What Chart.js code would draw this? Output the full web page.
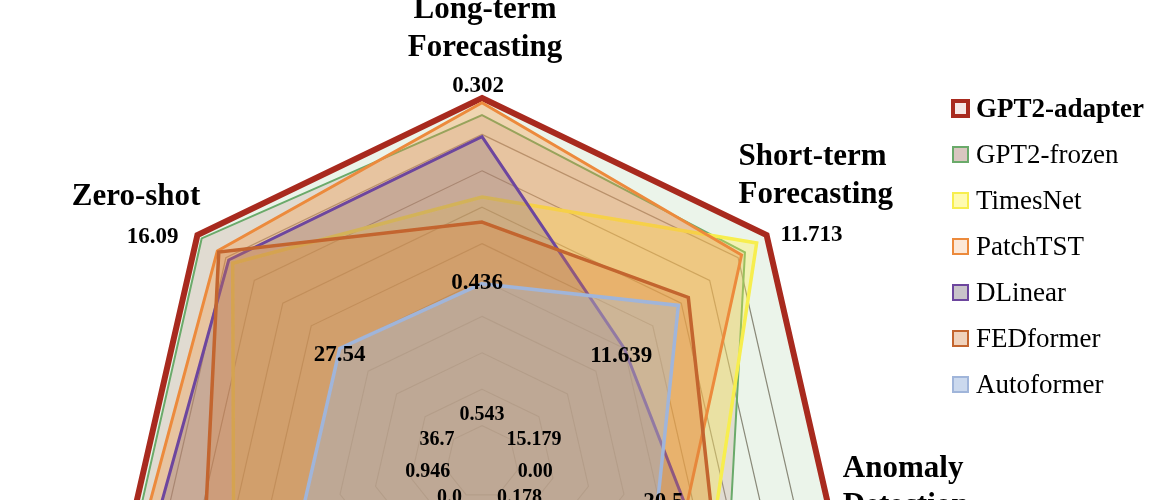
<!DOCTYPE html>
<html><head><meta charset="utf-8">
<script src="https://cdn.jsdelivr.net/npm/chart.js@4.4.1/dist/chart.umd.min.js"></script>
<style>
html,body{margin:0;padding:0;background:#fff;overflow:hidden;width:1176px;height:500px;}
#wrap{position:absolute;left:0;top:0;width:1176px;height:880px;}
#legend{position:absolute;left:952px;top:85px;font-family:"Liberation Serif","Times New Roman",serif;font-size:27px;color:#000;}
.item{display:flex;align-items:center;height:46px;white-space:nowrap;}
.box{box-sizing:border-box;width:17px;height:17px;margin-right:7px;}
</style></head><body>
<div id="wrap"><canvas id="c" width="1176" height="880"></canvas></div>
<div id="legend"></div>
<script>
// ---- data ----
const axisTitles = [["Long-term","Forecasting"],["Short-term","Forecasting"],["Anomaly","Detection"],["Classification"],["Imputation"],["Few-shot"],["Zero-shot"]];
const bestValues = ["0.302","11.713","","","","","16.09"];
const midValues = ["0.436","11.639","20.5","","","","27.54"];
const baseValues = ["0.543","15.179","0.00","0.178","0.0","0.946","36.7"];
const seriesNames = ["GPT2-adapter","GPT2-frozen","TimesNet","PatchTST","DLinear","FEDformer","Autoformer"];
const gpt2Adapter = [1.0, 1.0, 1.0, 1.0, 1.0, 1.0, 1.0];
const gpt2Frozen  = [0.953, 0.924, 0.70, 0.90, 0.95, 0.983, 0.985];
const timesNet    = [0.728, 0.965, 0.657, 0.85, 0.97, 0.70, 0.876];
const patchTST    = [0.987, 0.912, 0.575, 0.80, 0.90, 0.964, 0.93];
const dLinear     = [0.894, 0.50, 0.577, 0.70, 0.80, 0.93, 0.89];
const fedFormer   = [0.659, 0.725, 0.648, 0.70, 0.80, 0.78, 0.925];
const autoformer  = [0.49, 0.69, 0.495, 0.60, 0.60, 0.50, 0.50];
const seriesValues = [gpt2Adapter, gpt2Frozen, timesNet, patchTST, dLinear, fedFormer, autoformer];

// ---- styles ----
const lineColors = ["#A82A1E","#6AAA6A","#F7EE4E","#EC8A3C","#6D469E","#C3652F","#A0B5DA"];
const fillColors = ["rgba(190,220,185,0.3)","rgba(200,160,150,0.3)","rgba(255,238,70,0.33)","rgba(245,150,60,0.33)","rgba(130,110,130,0.3)","rgba(220,130,60,0.3)","rgba(155,185,225,0.35)"];
const lineWidths = [6, 2, 3.5, 3, 3, 3.5, 3.5];
const legendFills = ["#F6E8E6","#D9C6C0","#FFFBB0","#FCE8D8","#C9C4CA","#F0D2BC","#CBD9EE"];
const legendBorder = [4, 2, 2, 2, 2, 2, 2];
const SERIF = '"Liberation Serif","Times New Roman",serif';

// outer label placement relative to axis end point
const outerPlace = [
  {align:"center", tx:3,   ty:-80, vx:-4,  vy:-6},
  {align:"left",   tx:-28, ty:-70, vx:14,  vy:6},
  {align:"left",   tx:6,   ty:-66, vx:40,  vy:12},
  {align:"center", tx:0,   ty:40,  vx:0,   vy:75},
  {align:"center", tx:0,   ty:40,  vx:0,   vy:75},
  {align:"right",  tx:-8,  ty:40,  vx:-20, vy:75},
  {align:"right",  tx:3,   ty:-30, vx:-19, vy:8}
];
const midOffset = [[-5,3],[-3,8],[4,0],[0,0],[0,0],[0,0],[0,7]];
const baseOffset = [[0,0],[15,7],[7,-1],[17,-7],[-12,-7],[-8,-1],[-8,7]];

const labelPlugin = {
  id: "axisText",
  afterDraw(chart) {
    const s = chart.scales.r, ctx = chart.ctx;
    ctx.save();
    ctx.fillStyle = "#000";
    for (let i = 0; i < axisTitles.length; i++) {
      const p = s.getPointPositionForValue(i, 1);
      const o = outerPlace[i];
      ctx.textAlign = o.align; ctx.textBaseline = "alphabetic";
      ctx.font = "bold 31px " + SERIF;
      axisTitles[i].forEach((t, k) => ctx.fillText(t, p.x + o.tx, p.y + o.ty + k * 37.5));
      if (bestValues[i]) {
        ctx.font = "bold 23px " + SERIF;
        ctx.fillText(bestValues[i], p.x + o.vx, p.y + o.vy);
      }
      ctx.textAlign = "center"; ctx.textBaseline = "middle";
      if (midValues[i]) {
        const m = s.getPointPositionForValue(i, 0.5);
        ctx.font = "bold 23px " + SERIF;
        ctx.fillText(midValues[i], m.x + midOffset[i][0], m.y + midOffset[i][1]);
      }
      const b = s.getPointPositionForValue(i, 0.13);
      ctx.font = "bold 20px " + SERIF;
      ctx.fillText(baseValues[i], b.x + baseOffset[i][0], b.y + baseOffset[i][1]);
    }
    ctx.restore();
  }
};

const datasets = seriesNames.map((n, i) => ({
  label: n,
  data: seriesValues[i],
  borderColor: lineColors[i],
  backgroundColor: fillColors[i],
  borderWidth: lineWidths[i],
  fill: "origin",
  pointRadius: 0,
  borderJoinStyle: "miter",
  order: seriesNames.length - i
}));

new Chart(document.getElementById("c"), {
  type: "radar",
  data: { labels: axisTitles.map(t => t.join(" ")), datasets },
  options: {
    responsive: false,
    animation: false,
    layout: { padding: { left: 118, right: 330, top: 98, bottom: 54 } },
    plugins: { legend: { display: false }, tooltip: { enabled: false } },
    elements: { line: { tension: 0 } },
    scales: {
      r: {
        min: 0, max: 1,
        ticks: { display: false, stepSize: 0.1, z: 1 },
        pointLabels: { display: false },
        angleLines: { display: false },
        grid: { color: c => c.index >= 10 ? "rgba(0,0,0,0)" : "rgba(80,64,52,0.8)", lineWidth: 1.2 }
      }
    }
  },
  plugins: [labelPlugin]
});

// legend
const lg = document.getElementById("legend");
seriesNames.forEach((n, i) => {
  const it = document.createElement("div"); it.className = "item";
  const bx = document.createElement("div"); bx.className = "box";
  bx.style.border = legendBorder[i] + "px solid " + lineColors[i];
  bx.style.background = legendFills[i];
  if (i === 0) { bx.style.width = "19px"; bx.style.height = "19px"; bx.style.marginLeft = "-1px"; bx.style.marginRight = "6px"; }
  const tx = document.createElement("span"); tx.textContent = n;
  if (i === 0) tx.style.fontWeight = "bold";
  it.appendChild(bx); it.appendChild(tx); lg.appendChild(it);
});
</script>
</body></html>
